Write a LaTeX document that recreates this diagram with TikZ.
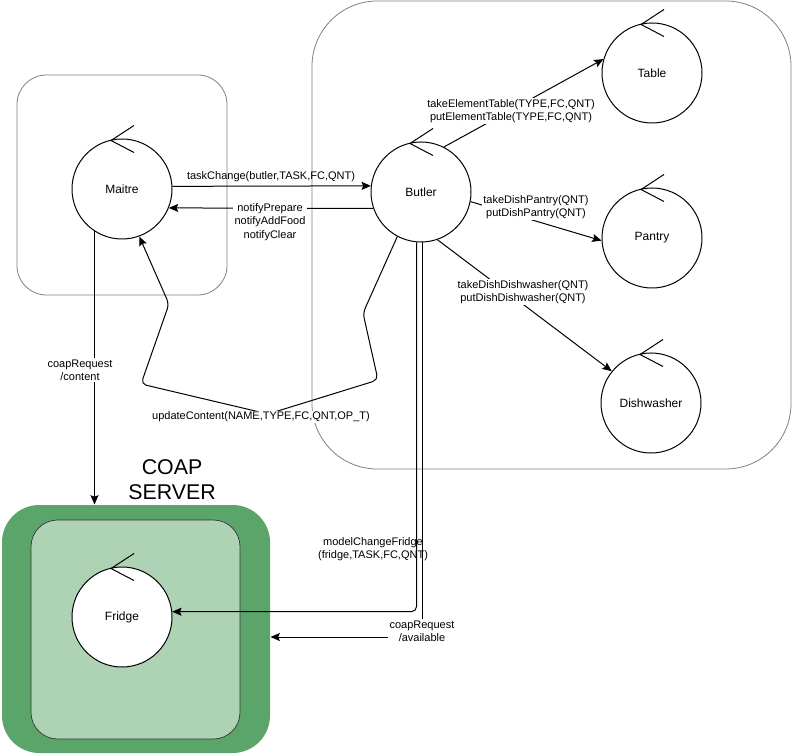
\documentclass[tikz,border=0pt]{standalone}
\usepackage{fontspec}
\setmainfont{Liberation Sans}
\usetikzlibrary{arrows.meta, positioning, calc}

\definecolor{srvdark}{RGB}{91,164,106}
\definecolor{srvlight}{RGB}{173,211,180}

% control mark on top of an actor circle
\newcommand{\ctrlmark}[1]{%
  \draw ([shift={(-11,2)}]#1.north) -- +(23,-15)
        ([shift={(-11,2)}]#1.north) -- +(23,12);}

\tikzset{
  actor/.style={draw, circle, fill=white, minimum size=75pt, inner sep=0pt,
    font=\fontsize{9}{11}\selectfont},
  lbl/.style={fill=white, inner sep=1pt, align=center,
    font=\fontsize{8.25}{10}\selectfont},
  area/.style={draw=black!50, line width=0.6pt},
}

\begin{document}
\begin{tikzpicture}[x=0.75pt, y=-0.75pt, line width=0.75pt,
    >={Stealth[length=7pt, width=6pt, inset=1.2pt]}]
  \useasboundingbox (0,0) rectangle (792,755);

  % Context areas
  \draw[area, rounded corners=22pt] (17,75) rectangle (227,295);
  \draw[area, rounded corners=49pt] (312,1) rectangle (791,469);

  % Coap server
  \node[fill=srvdark, rounded corners=28pt, minimum width=201pt,
        minimum height=186pt] (coap) at (136,629) {};
  \node[draw=black!80, fill=srvlight, rounded corners=20pt,
        line width=0.5pt, minimum width=156.75pt,
        minimum height=164.25pt] (coapin) at (135.5,629.5) {};
  \node[font=\fontsize{16}{18.75}\selectfont, align=center]
    (srvname) at (172,480) {COAP\\SERVER};

  % Actors
  \node[actor] (maitre) at (122,189) {Maitre};
  \node[actor] (butler) at (421,192) {Butler};
  \node[actor] (table)  at (652,73)  {Table};
  \node[actor] (pantry) at (652,238) {Pantry};
  \node[actor] (dishw)  at (651,403) {Dishwasher};
  \node[actor] (fridge) at (122,617) {Fridge};
  \foreach \a in {maitre, butler, table, pantry, dishw, fridge}
    {\ctrlmark{\a}}

  % Messages
  \draw[->] (maitre.3) -- (butler.173);
  \draw[->] (butler.199) -- (maitre.-22);
  \draw[->] (butler.63) -- (table.164);
  \draw[->] (butler.-11) -- (pantry.183);
  \draw[->] (butler.-71) -- (dishw.141);
  \draw[->] (maitre.237) -- (maitre.237 |- coap.north);
  \draw[->, rounded corners=4pt] (butler.265) |- (fridge.6);
  \draw[->] (butler.-88) |- ([yshift=-6pt]coap.east);
  \draw[->, rounded corners=4pt] (butler.-118) -- (363,313) -- (378,380)
    -- (268,414) -- (141,384) -- (169,304) -- (maitre.-70);

  % Message labels
  \node[lbl, fill=none] at (271,177) {taskChange(butler,TASK,FC,QNT)};
  \node[lbl] at (270,222) {notifyPrepare\\notifyAddFood\\notifyClear};
  \node[lbl] at (511,111)
    {takeElementTable(TYPE,FC,QNT)\\putElementTable(TYPE,FC,QNT)};
  \node[lbl] at (536,207) {takeDishPantry(QNT)\\putDishPantry(QNT)};
  \node[lbl] at (523,292)
    {takeDishDishwasher(QNT)\\putDishDishwasher(QNT)};
  \node[lbl] at (80,370) {coapRequest\\/content};
  \node[lbl, fill=none] at (373,549) {modelChangeFridge\\(fridge,TASK,FC,QNT)};
  \node[lbl] at (422,631) {coapRequest\\/available};
  \node[lbl] at (261,417) {updateContent(NAME,TYPE,FC,QNT,OP\_T)};
\end{tikzpicture}
\end{document}
